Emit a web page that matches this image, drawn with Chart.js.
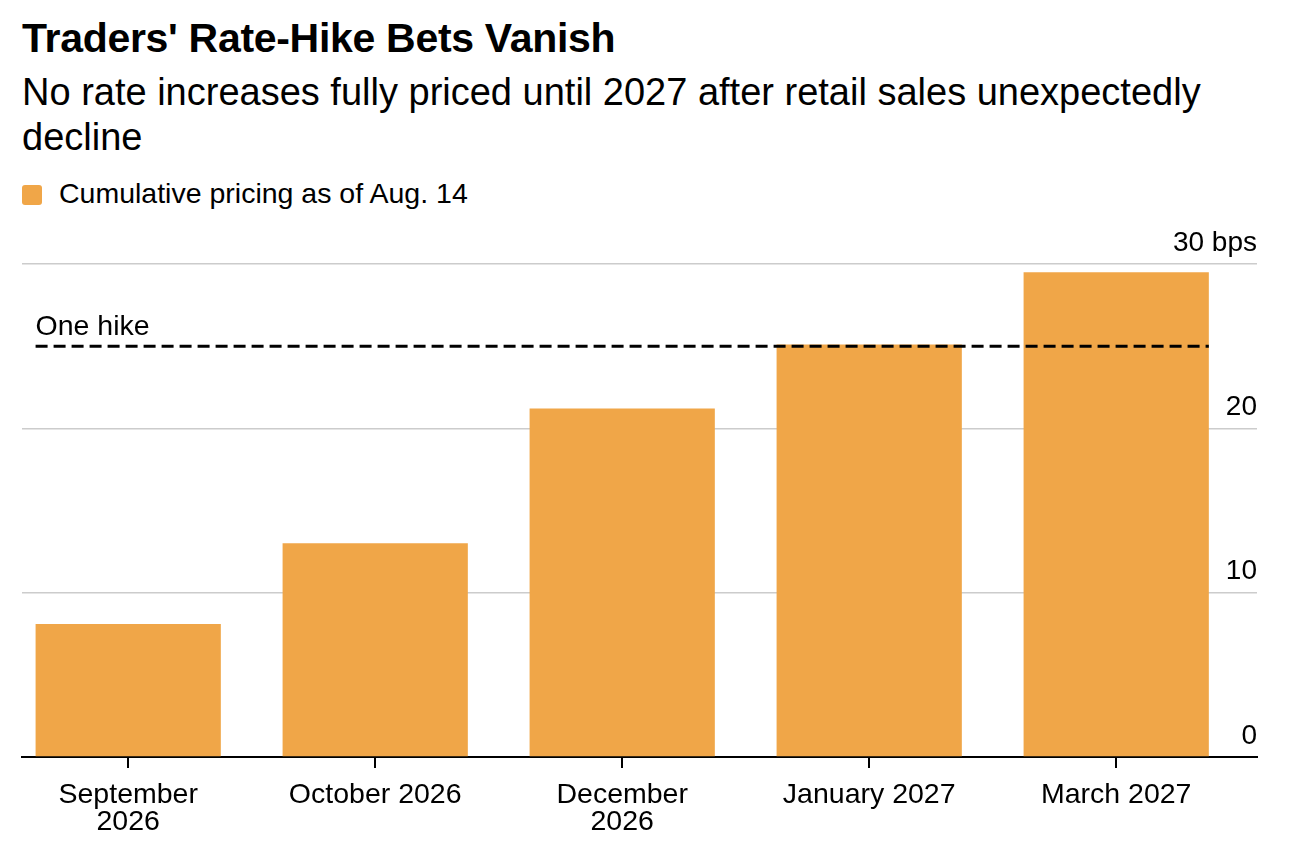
<!DOCTYPE html>
<html>
<head>
<meta charset="utf-8">
<script src="https://cdn.jsdelivr.net/npm/chart.js@4"></script>
<style>
  html, body { margin: 0; padding: 0; background: #fff; }
  body { width: 1292px; height: 846px; position: relative; overflow: hidden; font-family: "Liberation Sans", Arial, sans-serif; color: #000; }
  #title { position: absolute; left: 22px; top: 15px; font-size: 41px; font-weight: bold; line-height: 46px; letter-spacing: -0.3px; white-space: nowrap; }
  #subtitle { position: absolute; left: 22px; top: 70px; width: 1240px; font-size: 38px; line-height: 45px; }
  #legend { position: absolute; left: 22px; top: 178px; font-size: 28.5px; line-height: 30px; white-space: nowrap; }
  #legend .swatch { display: inline-block; width: 20px; height: 20px; border-radius: 3px; background: #f0a648; vertical-align: -2px; margin-right: 17px; }
  #wrap { position: absolute; left: 0; top: 220px; width: 1292px; height: 630px; }
</style>
</head>
<body>
<div id="title">Traders' Rate-Hike Bets Vanish</div>
<div id="subtitle">No rate increases fully priced until 2027 after retail sales unexpectedly decline</div>
<div id="legend"><span class="swatch"></span>Cumulative pricing as of Aug. 14</div>
<div id="wrap"><canvas id="chart"></canvas></div>

<script>
// data
const months = [['September', '2026'], 'October 2026', ['December', '2026'], 'January 2027', 'March 2027'];
const pricing = [8.1, 13.0, 21.2, 25.1, 29.5];
const yTicks = [0, 10, 20, 30];
const oneHike = 25;

const barColor = '#f0a648';
const font = "'Liberation Sans', Arial, sans-serif";

// dashed "One hike" reference line drawn over the bars
const hikeLine = {
  id: 'hikeLine',
  afterDatasetsDraw(chart) {
    const meta = chart.getDatasetMeta(0);
    const first = meta.data[0];
    const last = meta.data[meta.data.length - 1];
    const x0 = first.x - first.width / 2;
    const x1 = last.x + last.width / 2;
    const y = chart.scales.y.getPixelForValue(oneHike);
    const ctx = chart.ctx;
    ctx.save();
    ctx.strokeStyle = '#000';
    ctx.lineWidth = 3;
    ctx.setLineDash([12, 6]);
    ctx.beginPath();
    ctx.moveTo(x0, y);
    ctx.lineTo(x1, y);
    ctx.stroke();
    ctx.setLineDash([]);
    ctx.fillStyle = '#000';
    ctx.font = '28.5px ' + font;
    ctx.textAlign = 'left';
    ctx.textBaseline = 'alphabetic';
    ctx.fillText('One hike', x0, y - 11);
    ctx.restore();
  }
};

// bars sit on positions 0..4 of a linear x scale; the range is wider on the
// right so the rules run past the last bar like in the original
const ctx = document.getElementById('chart').getContext('2d');
new Chart(ctx, {
  type: 'bar',
  data: {
    datasets: [{
      label: 'Cumulative pricing as of Aug. 14',
      data: pricing.map((v, i) => ({ x: i, y: v })),
      backgroundColor: barColor,
      borderWidth: 0,
      barPercentage: 0.75,
      categoryPercentage: 1.0
    }]
  },
  options: {
    responsive: true,
    maintainAspectRatio: false,
    animation: false,
    layout: {
      padding: { left: 22, right: 35, top: 44, bottom: 0 }
    },
    plugins: {
      legend: { display: false },
      tooltip: { enabled: false }
    },
    scales: {
      x: {
        type: 'linear',
        offset: false,
        min: -0.43,
        max: 4.57,
        afterBuildTicks(scale) {
          scale.ticks = months.map((m, i) => ({ value: i }));
        },
        grid: {
          offset: false,
          drawOnChartArea: false,
          drawTicks: true,
          tickLength: 11,
          tickColor: '#000',
          lineWidth: 2
        },
        border: { display: true, color: '#000', width: 2 },
        ticks: {
          color: '#000',
          padding: 14,
          maxRotation: 0,
          autoSkip: false,
          font: { family: font, size: 28.5, lineHeight: '27px' },
          callback: v => months[v]
        }
      },
      y: {
        position: 'right',
        min: 0,
        max: 30,
        afterBuildTicks(scale) {
          scale.ticks = yTicks.map(v => ({ value: v }));
        },
        grid: {
          color: '#cccccc',
          lineWidth: 1.5,
          drawTicks: false
        },
        border: { display: false },
        ticks: {
          mirror: true,
          padding: 0,
          labelOffset: -21,
          color: '#000',
          font: { family: font, size: 28 },
          callback: v => v === 30 ? '30 bps' : String(v)
        }
      }
    }
  },
  plugins: [hikeLine]
});
</script>
</body>
</html>
